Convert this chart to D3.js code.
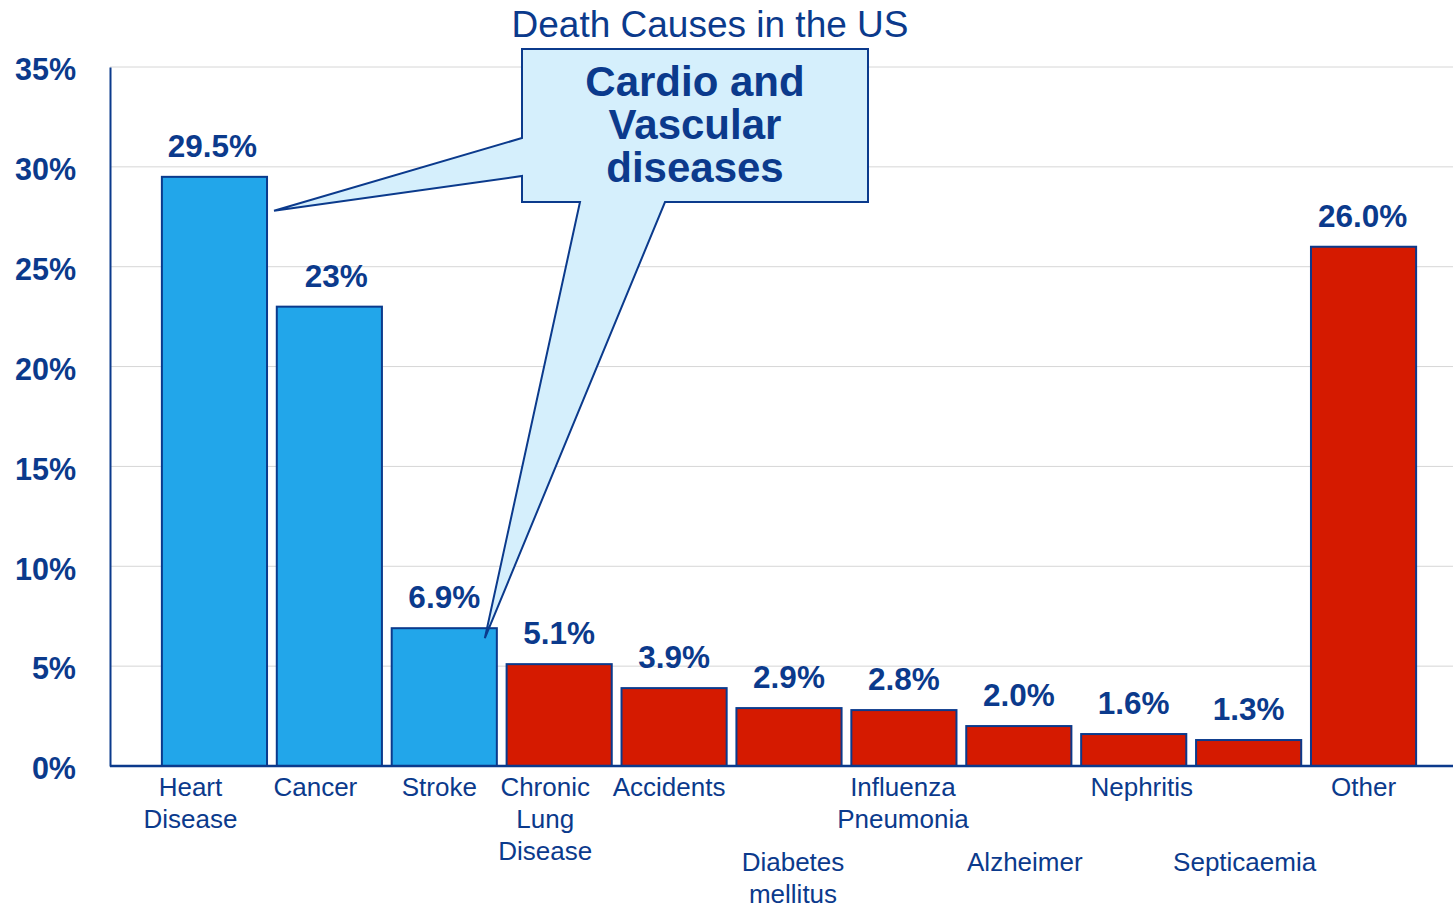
<!DOCTYPE html>
<html>
<head>
<meta charset="utf-8">
<script src="https://cdn.jsdelivr.net/npm/d3@7/dist/d3.min.js"></script>
<style>
  html, body { margin: 0; padding: 0; background: #fff; }
  svg { display: block; font-family: "Liberation Sans", Arial, sans-serif; }
</style>
</head>
<body>
<svg id="chart" width="1453" height="904"></svg>
<script>
// Share of deaths by cause
const categories = ["Heart Disease", "Cancer", "Stroke", "Chronic Lung Disease", "Accidents",
  "Diabetes mellitus", "Influenza Pneumonia", "Alzheimer", "Nephritis", "Septicaemia", "Other"];
const categoryLines = [["Heart", "Disease"], ["Cancer"], ["Stroke"], ["Chronic", "Lung", "Disease"],
  ["Accidents"], ["Diabetes", "mellitus"], ["Influenza", "Pneumonia"], ["Alzheimer"],
  ["Nephritis"], ["Septicaemia"], ["Other"]];
const labelRow = [0, 0, 0, 0, 0, 1, 0, 1, 0, 1, 0];
const values = [29.5, 23, 6.9, 5.1, 3.9, 2.9, 2.8, 2.0, 1.6, 1.3, 26.0];
const valueLabels = ["29.5%", "23%", "6.9%", "5.1%", "3.9%", "2.9%", "2.8%", "2.0%", "1.6%", "1.3%", "26.0%"];
const cardio = ["Heart Disease", "Cancer", "Stroke"];
const yTicks = [0, 5, 10, 15, 20, 25, 30, 35];
const calloutLines = ["Cardio and", "Vascular", "diseases"];

// Hand-placed horizontal nudges for the text boxes (px)
const categoryNudge = [-24, -14, -5, -14, -5, 4, -1, 6, 8, -4, 0];
const valueNudge = [-2, 7, 0, 0, 0, 0, 0, 0, 0, 0, -1];

const ink = "#0B3A8C";
const svg = d3.select("#chart");

const x = d3.scaleBand().domain(categories).range([157, 1421]).paddingInner(0.085).paddingOuter(0.0425);
const y = d3.scaleLinear().domain([0, 35]).range([766, 67]);

// Grid lines
svg.append("g").selectAll("line").data(yTicks.filter(d => d > 0)).join("line")
  .attr("x1", 110).attr("x2", 1453)
  .attr("y1", d => y(d)).attr("y2", d => y(d))
  .attr("stroke", "#d6d6d6").attr("stroke-width", 1);

// Y axis
const yAxis = svg.append("g").attr("transform", "translate(110,0)")
  .call(d3.axisLeft(y).tickValues(yTicks).tickFormat(d => d + "%").tickSize(0).tickPadding(34));
yAxis.select(".domain").attr("stroke", ink).attr("stroke-width", 2);
yAxis.selectAll("text").attr("fill", ink).attr("font-size", 30.5).attr("font-weight", "bold")
  .attr("font-family", "Liberation Sans, Arial, sans-serif").attr("dy", "0.42em");

// Bars
svg.append("g").selectAll("rect").data(categories).join("rect")
  .attr("x", d => x(d)).attr("width", x.bandwidth())
  .attr("y", (d, i) => y(values[i])).attr("height", (d, i) => y(0) - y(values[i]))
  .attr("fill", d => cardio.includes(d) ? "#22A6EA" : "#D51A00")
  .attr("stroke", ink).attr("stroke-width", 2);

// Baseline
svg.append("line").attr("x1", 110).attr("x2", 1453).attr("y1", y(0)).attr("y2", y(0))
  .attr("stroke", ink).attr("stroke-width", 2.5);

// Value labels
svg.append("g").selectAll("text").data(categories).join("text")
  .attr("x", (d, i) => x(d) + x.bandwidth() / 2 + valueNudge[i])
  .attr("y", (d, i) => y(values[i]) - 20)
  .attr("text-anchor", "middle").attr("fill", ink)
  .attr("font-size", 31.5).attr("font-weight", "bold")
  .text((d, i) => valueLabels[i]);

// Category labels
const cat = svg.append("g").selectAll("text").data(categories).join("text")
  .attr("text-anchor", "middle").attr("fill", ink).attr("font-size", 26)
  .attr("transform", (d, i) =>
    `translate(${x(d) + x.bandwidth() / 2 + categoryNudge[i]},${796 + labelRow[i] * 75})`);
cat.selectAll("tspan").data((d, i) => categoryLines[i]).join("tspan")
  .attr("x", 0).attr("dy", (d, j) => j === 0 ? 0 : 32).text(d => d);

// Title
svg.append("text").attr("x", 710).attr("y", 37).attr("text-anchor", "middle")
  .attr("fill", ink).attr("font-size", 37).text("Death Causes in the US");

// Callout pointing at the cardio-vascular bars
const tipA = [x("Heart Disease") + x.bandwidth() + 7, y(27.8)];
const tipB = [x("Stroke") + x.bandwidth() - 12, y(6.4)];
const box = { l: 522, t: 49, r: 868, b: 202 };
const calloutPts = [
  [box.l, box.t], [box.r, box.t], [box.r, box.b], [665, box.b], tipB, [580, box.b],
  [box.l, box.b], [box.l, 176], tipA, [box.l, 138]
];
svg.append("path")
  .attr("d", d3.line()(calloutPts) + "Z")
  .attr("fill", "#D5EFFC").attr("stroke", ink).attr("stroke-width", 2).attr("stroke-linejoin", "miter");

svg.append("g").selectAll("text").data(calloutLines).join("text")
  .attr("x", (box.l + box.r) / 2).attr("y", (d, i) => 96 + i * 43)
  .attr("text-anchor", "middle").attr("fill", ink)
  .attr("font-size", 42).attr("font-weight", "bold").text(d => d);
</script>
</body>
</html>
